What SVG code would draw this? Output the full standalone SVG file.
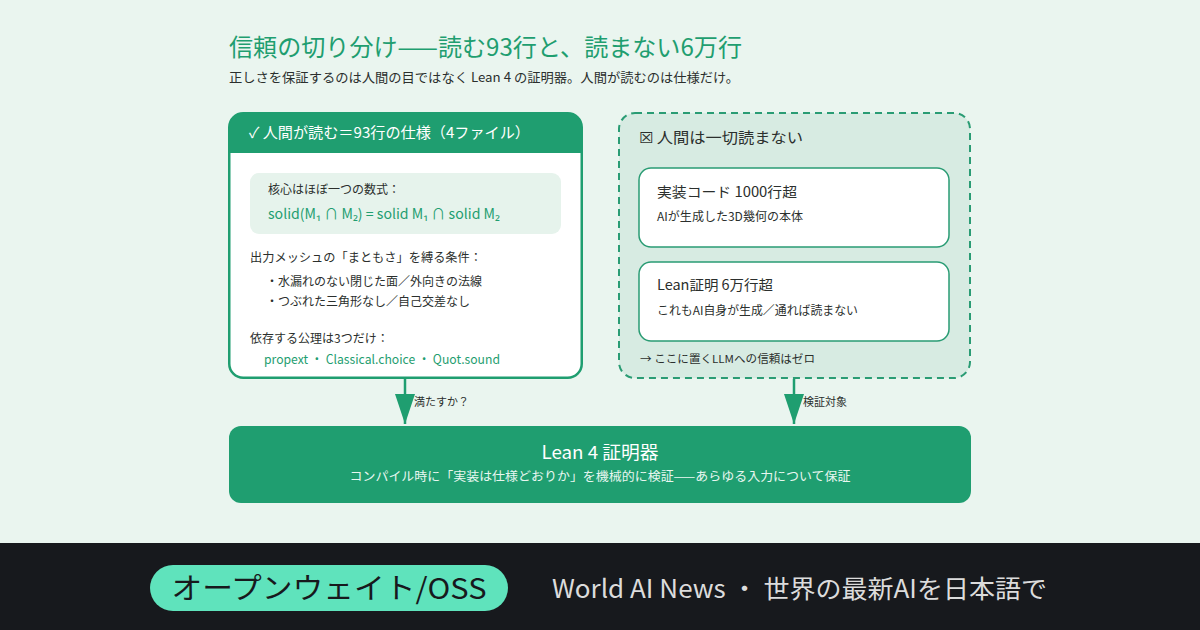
<svg xmlns="http://www.w3.org/2000/svg" width="1200" height="630" viewBox="0 0 1200 630">
<defs>
<style>
text{font-family:"Noto Sans CJK JP","Noto Sans",sans-serif;}
.dark{fill:#2b2f2d;}
.green{fill:#1f9e70;}
.white{fill:#ffffff;}
.inner{fill:#ffffff;stroke:#2a9c74;stroke-width:1.5;}
.conn{stroke:#1f9e70;stroke-width:2.5;fill:none;}
</style>
<marker id="arr" viewBox="0 0 30 20" refX="30" refY="10" markerWidth="30" markerHeight="20" markerUnits="userSpaceOnUse" orient="auto">
<path d="M0,0 L30,10 L0,20 Z" fill="#1f9e70"/>
</marker>
</defs>
<rect x="0" y="0" width="1200" height="630" fill="#eaf5ef"/>
<rect x="0" y="543" width="1200" height="87" fill="#17191d"/>

<g id="title">
<text x="229" y="56" font-size="24" class="green" textLength="513" lengthAdjust="spacingAndGlyphs">信頼の切り分け——読む93行と、読まない6万行</text>
<text x="229" y="82" font-size="13" class="dark" textLength="510" lengthAdjust="spacingAndGlyphs">正しさを保証するのは人間の目ではなく Lean 4 の証明器。人間が読むのは仕様だけ。</text>
</g>

<g id="spec">
<rect x="229.25" y="113.25" width="352.5" height="264.5" rx="14" fill="#ffffff" stroke="#1f9e70" stroke-width="2.5"/>
<path d="M229.25,153 V127.25 A14,14 0 0 1 243.25,113.25 H567.75 A14,14 0 0 1 581.75,127.25 V153 Z" fill="#1f9e70"/>
<text x="249" y="138" font-size="15" class="white" textLength="281" lengthAdjust="spacingAndGlyphs">✓ 人間が読む＝93行の仕様（4ファイル）</text>
<rect x="250" y="173" width="311" height="61" rx="9" fill="#e6f3ec"/>
<text x="268" y="194" font-size="12" class="dark">核心はほぼ一つの数式：</text>
<text x="268" y="219" font-size="14" class="green" textLength="232" lengthAdjust="spacingAndGlyphs">solid(M₁ ∩ M₂) = solid M₁ ∩ solid M₂</text>
<text x="250" y="262" font-size="12" class="dark" textLength="232" lengthAdjust="spacingAndGlyphs">出力メッシュの「まともさ」を縛る条件：</text>
<text x="266" y="286" font-size="12" class="dark">・水漏れのない閉じた面／外向きの法線</text>
<text x="266" y="306" font-size="12" class="dark">・つぶれた三角形なし／自己交差なし</text>
<text x="250" y="343" font-size="12" class="dark">依存する公理は3つだけ：</text>
<text x="264" y="364" font-size="12.5" class="green" textLength="236" lengthAdjust="spacingAndGlyphs">propext ・ Classical.choice ・ Quot.sound</text>
</g>

<g id="unread">
<rect x="619" y="113" width="351" height="265" rx="16" fill="#d7ebe2" stroke="#2a9c74" stroke-width="2" stroke-dasharray="7,5"/>
<text x="639" y="143" font-size="15" class="dark" textLength="164" lengthAdjust="spacingAndGlyphs">☒ 人間は一切読まない</text>
<text x="640" y="363" font-size="11" class="dark" textLength="175" lengthAdjust="spacingAndGlyphs">→ ここに置くLLMへの信頼はゼロ</text>
</g>

<g id="impl">
<rect x="639" y="168" width="310" height="79" rx="12" class="inner"/>
<text x="657" y="197" font-size="14" class="dark" textLength="140" lengthAdjust="spacingAndGlyphs">実装コード 1000行超</text>
<text x="657" y="221" font-size="12" class="dark" textLength="146" lengthAdjust="spacingAndGlyphs">AIが生成した3D幾何の本体</text>
</g>

<g id="proof">
<rect x="639" y="262" width="310" height="79" rx="12" class="inner"/>
<text x="657" y="290" font-size="14" class="dark" textLength="116" lengthAdjust="spacingAndGlyphs">Lean証明 6万行超</text>
<text x="657" y="315" font-size="12" class="dark" textLength="201" lengthAdjust="spacingAndGlyphs">これもAI自身が生成／通れば読まない</text>
</g>

<g id="connectors">
<line x1="405" y1="379" x2="405" y2="424" class="conn" marker-end="url(#arr)"/>
<text x="414" y="406" font-size="11" class="dark">満たすか？</text>
<line x1="794" y1="379" x2="794" y2="424" class="conn" marker-end="url(#arr)"/>
<text x="803" y="406" font-size="11" class="dark">検証対象</text>
</g>

<g id="lean">
<rect x="229" y="426" width="742" height="77" rx="12" fill="#1f9e70"/>
<text x="600" y="459" font-size="18" class="white" text-anchor="middle" textLength="117" lengthAdjust="spacingAndGlyphs">Lean 4 証明器</text>
<text x="600" y="481" font-size="12.5" fill="#e8f7f0" text-anchor="middle" textLength="501" lengthAdjust="spacingAndGlyphs">コンパイル時に「実装は仕様どおりか」を機械的に検証——あらゆる入力について保証</text>
</g>

<g id="footer">
<rect x="150" y="565" width="358" height="46" rx="23" fill="#5fe3bc"/>
<text x="329" y="599" font-size="29" fill="#17191d" text-anchor="middle" textLength="315" lengthAdjust="spacingAndGlyphs">オープンウェイト/OSS</text>
<text x="552" y="598" font-size="25" fill="#dcdcdc" textLength="495" lengthAdjust="spacingAndGlyphs">World AI News ・ 世界の最新AIを日本語で</text>
</g>
</svg>
